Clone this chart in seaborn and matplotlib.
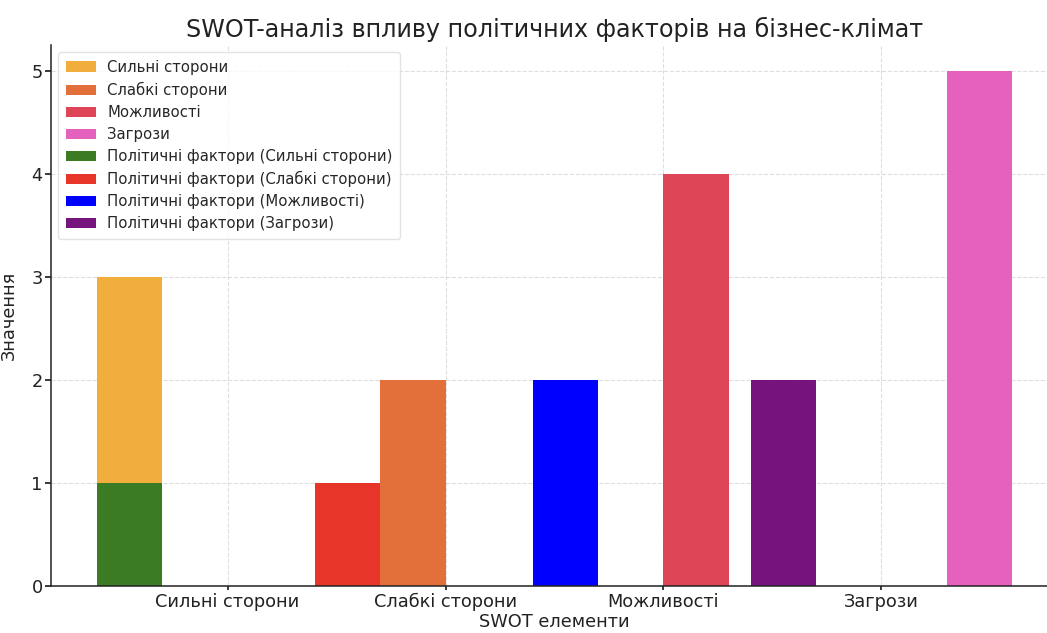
import numpy as np
import pandas as pd
import matplotlib
matplotlib.use("Agg")
import matplotlib.pyplot as plt
import seaborn as sns

# SWOT categories and their scores
categories = ["Сильні сторони", "Слабкі сторони", "Можливості", "Загрози"]
swot_values = [3, 2, 4, 5]
swot_colors = ["#F2AE3C", "#E3703A", "#DE4657", "#E462BD"]

# Political factors within each SWOT element
political_labels = [
    "Політичні фактори (Сильні сторони)",
    "Політичні фактори (Слабкі сторони)",
    "Політичні фактори (Можливості)",
    "Політичні фактори (Загрози)",
]
political_values = [1, 1, 2, 2]
political_colors = ["#3A7B23", "#E8352A", "#0000FF", "#74147C"]

sns.set_theme(style="ticks")
plt.rcParams["font.family"] = ["DejaVu Sans"]

fig = plt.figure(figsize=(10.47, 6.33), dpi=100)
ax = fig.add_axes([0.0487, 0.0742, 0.9618, 0.8547])

bar_w = 0.3
x = np.arange(len(categories))

for i, (cat, val, col) in enumerate(zip(categories, swot_values, swot_colors)):
    pos = x[i] + (i - 1.5) * bar_w
    sns.barplot(x=[pos], y=[val], native_scale=True, width=bar_w,
                color=col, saturation=1, errorbar=None, label=cat,
                linewidth=0, ax=ax)

for i, (lab, val, col) in enumerate(zip(political_labels, political_values, political_colors)):
    pos = x[i] - 1.5 * bar_w
    sns.barplot(x=[pos], y=[val], native_scale=True, width=bar_w,
                color=col, saturation=1, errorbar=None, label=lab,
                linewidth=0, ax=ax)

ax.set_xticks(x)
ax.set_xticklabels(categories)
ax.set_xlim(-0.81, 3.81)
ax.set_ylim(0, 5.25)
ax.set_yticks(range(0, 6))

ax.grid(True, linestyle="--", color="#d6d6d6", linewidth=0.8, alpha=0.8)
ax.set_axisbelow(True)
sns.despine(ax=ax)
for s in ("left", "bottom"):
    ax.spines[s].set_color("#222222")
    ax.spines[s].set_linewidth(1.1)

ax.tick_params(axis="x", labelsize=12.8, colors="#222222", length=3, pad=2)
ax.tick_params(axis="y", labelsize=12.8, colors="#222222", length=4, pad=2)
ax.set_xlabel("SWOT елементи", fontsize=12.8, color="#222222", labelpad=1)
ax.set_ylabel("Значення", fontsize=12.8, color="#222222", labelpad=10)
ax.set_title("SWOT-аналіз впливу політичних факторів на бізнес-клімат",
             fontsize=17.2, color="#222222", pad=6)

leg = ax.legend(loc="upper left", fontsize=10.7, frameon=True, handlelength=2.0,
                borderpad=0.5, labelspacing=0.47, fancybox=True)
leg.get_frame().set_edgecolor("#dddddd")

fig.savefig("out.png", dpi=100)
